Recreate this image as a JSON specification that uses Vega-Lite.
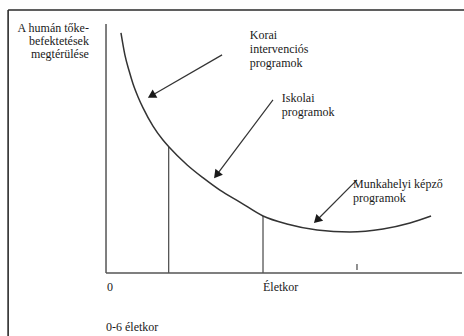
{
  "$schema": "https://vega.github.io/schema/vega-lite/v6.json",
  "width": 464,
  "height": 336,
  "autosize": {"type": "none"},
  "padding": 0,
  "background": "white",
  "config": {"view": {"stroke": null}, "text": {"font": "Liberation Serif"}},
  "datasets": {
    "curve": [
      {"x": 4.2, "y": 96.4}, {"x": 5.3, "y": 87.6}, {"x": 6.5, "y": 81.1}, {"x": 7.6, "y": 75.9},
      {"x": 9.0, "y": 70.7}, {"x": 10.4, "y": 66.3}, {"x": 13.2, "y": 59.0}, {"x": 16.0, "y": 53.4},
      {"x": 17.7, "y": 50.6}, {"x": 22.8, "y": 43.4}, {"x": 27.3, "y": 38.2}, {"x": 32.0, "y": 33.3},
      {"x": 37.6, "y": 28.5}, {"x": 44.1, "y": 22.9}, {"x": 50.8, "y": 19.7}, {"x": 59.3, "y": 17.3},
      {"x": 68.5, "y": 16.5}, {"x": 77.8, "y": 17.7}, {"x": 85.4, "y": 20.1}, {"x": 91.3, "y": 22.9}
    ],
    "segments": [
      {"kind": "frame", "x": -27.5, "y": 105.6, "x2": 100.6, "y2": 105.6},
      {"kind": "frame", "x": -27.5, "y": 105.6, "x2": -27.5, "y2": -25.3},
      {"kind": "axis", "x": 0, "y": 0, "x2": 0, "y2": 100},
      {"kind": "axis", "x": 0, "y": 0, "x2": 100, "y2": 0},
      {"kind": "guide", "x": 17.6, "y": 0, "x2": 17.6, "y2": 50.6},
      {"kind": "guide", "x": 44.1, "y": 0, "x2": 44.1, "y2": 22.9},
      {"kind": "guide", "x": 70.5, "y": 1.2, "x2": 70.5, "y2": 3.6}
    ],
    "arrows": [
      {"x": 32.6, "y": 87.6, "x2": 13.1, "y2": 71.5, "angle": 240},
      {"x": 46.9, "y": 69.5, "x2": 31.3, "y2": 39.8, "angle": 218},
      {"x": 70.5, "y": 37.4, "x2": 59.5, "y2": 21.6, "angle": 225}
    ],
    "labels": [
      {"side": "right", "x": -4.8, "y": 96.6, "text": "A humán tőke-\nbefektetések\nmegtérülése"},
      {"side": "left", "x": 40.4, "y": 93.8, "text": "Korai\nintervenciós\nprogramok"},
      {"side": "left", "x": 49.4, "y": 68.5, "text": "Iskolai\nprogramok"},
      {"side": "left", "x": 69.4, "y": 34.3, "text": "Munkahelyi képző\nprogramok"},
      {"side": "left", "x": 0.3, "y": -7.4, "text": "0"},
      {"side": "left", "x": 44.1, "y": -7.4, "text": "Életkor"},
      {"side": "left", "x": 0, "y": -23.1, "text": "0-6 életkor"}
    ]
  },
  "encoding": {
    "x": {"field": "x", "type": "quantitative", "scale": {"domain": [-29.78, 100.56], "nice": false, "zero": false}, "axis": null},
    "y": {"field": "y", "type": "quantitative", "scale": {"domain": [-25.3, 109.64], "nice": false, "zero": false}, "axis": null}
  },
  "layer": [
    {
      "data": {"name": "segments"},
      "transform": [{"filter": "datum.kind == 'frame'"}],
      "mark": {"type": "rule", "color": "#2a2a2a", "strokeWidth": 1.6},
      "encoding": {"x2": {"field": "x2"}, "y2": {"field": "y2"}}
    },
    {
      "data": {"name": "segments"},
      "transform": [{"filter": "datum.kind == 'axis'"}],
      "mark": {"type": "rule", "color": "#555555", "strokeWidth": 1.5},
      "encoding": {"x2": {"field": "x2"}, "y2": {"field": "y2"}}
    },
    {
      "data": {"name": "segments"},
      "transform": [{"filter": "datum.kind == 'guide'"}],
      "mark": {"type": "rule", "color": "#555555", "strokeWidth": 1.3},
      "encoding": {"x2": {"field": "x2"}, "y2": {"field": "y2"}}
    },
    {
      "data": {"name": "arrows"},
      "mark": {"type": "rule", "color": "#333333", "strokeWidth": 1.2},
      "encoding": {"x2": {"field": "x2"}, "y2": {"field": "y2"}}
    },
    {
      "data": {"name": "arrows"},
      "mark": {"type": "point", "shape": "triangle", "filled": true, "color": "#1a1a1a", "size": 90, "opacity": 1},
      "encoding": {
        "x": {"field": "x2", "type": "quantitative"},
        "y": {"field": "y2", "type": "quantitative"},
        "angle": {"field": "angle", "type": "quantitative", "scale": null}
      }
    },
    {
      "data": {"name": "curve"},
      "mark": {"type": "line", "interpolate": "monotone", "color": "#333333", "strokeWidth": 1.5},
      "encoding": {"order": {"field": "x", "type": "quantitative"}}
    },
    {
      "data": {"name": "labels"},
      "transform": [{"filter": "datum.side == 'right'"}],
      "mark": {"type": "text", "align": "right", "baseline": "alphabetic", "font": "Liberation Serif", "fontSize": 12, "lineHeight": 13, "lineBreak": "\n", "color": "#1a1a1a"},
      "encoding": {"text": {"field": "text"}}
    },
    {
      "data": {"name": "labels"},
      "transform": [{"filter": "datum.side == 'left'"}],
      "mark": {"type": "text", "align": "left", "baseline": "alphabetic", "font": "Liberation Serif", "fontSize": 12, "lineHeight": 14, "lineBreak": "\n", "color": "#1a1a1a"},
      "encoding": {"text": {"field": "text"}}
    }
  ]
}
